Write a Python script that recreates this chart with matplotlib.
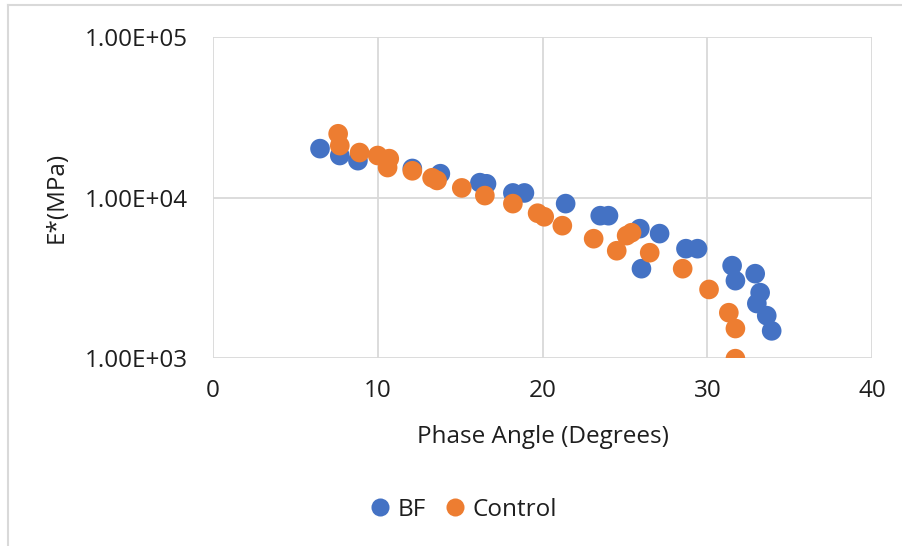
import matplotlib
matplotlib.use("Agg")
import matplotlib.pyplot as plt
from matplotlib.lines import Line2D
from matplotlib.ticker import FixedLocator, FuncFormatter

plt.rcParams['font.family'] = ['Open Sans', 'DejaVu Sans']

# Phase angle (degrees) and dynamic modulus E* (MPa)
bf_phase = [6.5, 7.7, 8.8, 12.1, 13.8, 16.2, 16.6, 18.2, 18.9, 21.4, 23.5, 24.0,
            25.9, 27.1, 26.0, 28.7, 29.4, 31.5, 31.7, 32.9, 33.2, 33.0, 33.6, 33.9]
bf_modulus = [20200, 18300, 17000, 15200, 14100, 12400, 12200, 10700, 10700, 9180,
              7720, 7720, 6410, 5970, 3610, 4810, 4810, 3770, 3040, 3360, 2560,
              2190, 1840, 1480]

control_phase = [7.6, 7.7, 8.9, 10.0, 10.7, 10.6, 12.1, 13.3, 13.6, 15.1, 16.5,
                 18.2, 19.7, 20.1, 21.2, 23.1, 24.5, 25.1, 25.4, 26.5, 28.5, 30.1,
                 31.3, 31.7, 31.7]
control_modulus = [25000, 21100, 19100, 18300, 17500, 15400, 14700, 13300, 12800,
                   11500, 10300, 9180, 8000, 7600, 6690, 5550, 4670, 5800, 6050,
                   4540, 3610, 2680, 1920, 1530, 993]

x_ticks = [0, 10, 20, 30, 40]
y_ticks = [1e3, 1e4, 1e5]

BLUE = '#4472C4'
ORANGE = '#ED7D31'
GRID = '#D9D9D9'
TEXT = '#1E1E1E'
FS = 17.5

fig = plt.figure(figsize=(9.02, 5.46), dpi=100)
ax = fig.add_axes([0.236, 0.344, 0.731, 0.588])

ax.scatter(bf_phase, bf_modulus, s=200, color=BLUE, edgecolors='none', zorder=3)
ax.scatter(control_phase, control_modulus, s=200, color=ORANGE, edgecolors='none', zorder=4)

ax.set_yscale('log')
ax.set_xlim(0, 40)
ax.set_ylim(1e3, 1e5)
ax.xaxis.set_major_locator(FixedLocator(x_ticks))
ax.yaxis.set_major_locator(FixedLocator(y_ticks))
ax.yaxis.set_minor_locator(FixedLocator([]))
ax.yaxis.set_major_formatter(FuncFormatter(lambda v, p: f"{v:.2E}"))
ax.grid(True, color=GRID, linewidth=1.3, zorder=0)
ax.set_axisbelow(True)
for sp in ax.spines.values():
    sp.set_visible(False)
ax.tick_params(axis='both', length=0, labelsize=FS, colors=TEXT)
ax.tick_params(axis='y', pad=18)
ax.tick_params(axis='x', pad=15)

# axis titles
fig.text(0.602, 1 - 437 / 546, 'Phase Angle (Degrees)', fontsize=FS, color=TEXT,
         ha='center', va='center')
fig.text(57 / 902, 1 - 197 / 546, 'E*(MPa)', fontsize=FS, color=TEXT,
         ha='center', va='center', rotation=90)

handles = [Line2D([], [], marker='o', linestyle='none', markersize=13,
                  markerfacecolor=BLUE, markeredgecolor='none', label='BF'),
           Line2D([], [], marker='o', linestyle='none', markersize=13,
                  markerfacecolor=ORANGE, markeredgecolor='none', label='Control')]
fig.legend(handles=handles, loc='center', bbox_to_anchor=(0.513, 1 - 510 / 546), ncol=2,
           frameon=False, fontsize=FS, handlelength=0.95, handletextpad=0.25,
           columnspacing=0.75, labelcolor=TEXT)

# chart frame edges
fig.add_artist(Line2D([0.009, 0.009], [0, 0.991], transform=fig.transFigure,
                      color=GRID, linewidth=1.5))
fig.add_artist(Line2D([0.009, 1.0], [0.991, 0.991], transform=fig.transFigure,
                      color=GRID, linewidth=1.5))

fig.savefig('out.png', dpi=100, facecolor='white')
